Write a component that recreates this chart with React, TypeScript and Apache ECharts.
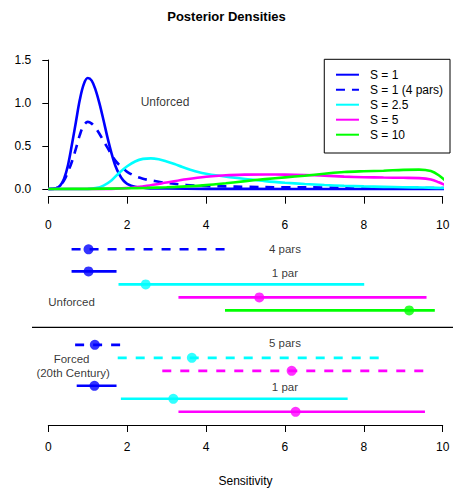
import { useEffect, useRef } from "react";
import * as echarts from "echarts";

// ---------- data ----------
const legendNames = ["S = 1", "S = 1 (4 pars)", "S = 2.5", "S = 5", "S = 10"];
const xTicks = [0, 2, 4, 6, 8, 10];
const yTicks = [0, 0.5, 1.0, 1.5];

const densityS1 = [
  [0, 0], [0.1, 0.002], [0.2, 0.01], [0.3, 0.04], [0.4, 0.12], [0.5, 0.28], [0.6, 0.52],
  [0.7, 0.78], [0.8, 1.04], [0.9, 1.22], [1.0, 1.29], [1.1, 1.26], [1.2, 1.15], [1.3, 0.99],
  [1.4, 0.8], [1.5, 0.6], [1.6, 0.42], [1.7, 0.27], [1.8, 0.17], [1.9, 0.1], [2.0, 0.06],
  [2.2, 0.025], [2.5, 0.01], [3, 0.005], [4, 0.002], [5, 0.001], [7, 0], [10.25, 0],
];
const densityS1FourPars = [
  [0, 0], [0.2, 0.01], [0.3, 0.04], [0.4, 0.1], [0.5, 0.2], [0.6, 0.32], [0.7, 0.47],
  [0.8, 0.63], [0.9, 0.74], [1.0, 0.78], [1.1, 0.76], [1.2, 0.71], [1.3, 0.64], [1.4, 0.56],
  [1.5, 0.48], [1.6, 0.4], [1.7, 0.33], [1.8, 0.28], [1.9, 0.24], [2.0, 0.2], [2.2, 0.15],
  [2.4, 0.12], [2.6, 0.1], [2.8, 0.085], [3.0, 0.07], [3.5, 0.047], [4, 0.035], [4.5, 0.03],
  [5, 0.025], [6, 0.02], [7, 0.018], [8, 0.016], [9, 0.014], [10, 0.01], [10.25, 0.004],
];
const densityS25 = [
  [0, 0], [1.0, 0.001], [1.2, 0.01], [1.4, 0.04], [1.6, 0.1], [1.8, 0.19], [2.0, 0.265],
  [2.2, 0.32], [2.4, 0.35], [2.6, 0.356], [2.8, 0.345], [3.0, 0.32], [3.2, 0.29], [3.4, 0.255],
  [3.6, 0.225], [3.8, 0.198], [4.0, 0.178], [4.3, 0.156], [4.6, 0.138], [5, 0.117], [5.5, 0.092],
  [6, 0.073], [6.5, 0.058], [7, 0.046], [7.5, 0.037], [8, 0.03], [8.5, 0.025], [9, 0.021],
  [9.5, 0.017], [10, 0.012], [10.25, 0.004],
];
const densityS5 = [
  [0, 0], [1.5, 0.001], [2.0, 0.01], [2.2, 0.02], [2.5, 0.038], [3.0, 0.075], [3.5, 0.113],
  [4.0, 0.143], [4.5, 0.16], [5.0, 0.167], [5.5, 0.169], [6.0, 0.167], [6.5, 0.163], [7.0, 0.155],
  [7.5, 0.144], [8.0, 0.137], [8.5, 0.133], [9.0, 0.13], [9.4, 0.126], [9.7, 0.11], [9.9, 0.078],
  [10.1, 0.038], [10.25, 0.012],
];
const densityS10 = [
  [0, 0], [1, 0.002], [2, 0.008], [2.5, 0.013], [3, 0.02], [3.5, 0.03], [4, 0.045], [4.5, 0.067],
  [5, 0.092], [5.5, 0.115], [6, 0.135], [6.5, 0.155], [7, 0.178], [7.5, 0.198], [8, 0.207],
  [8.5, 0.213], [9, 0.222], [9.4, 0.225], [9.7, 0.208], [9.9, 0.16], [10.1, 0.085], [10.25, 0.028],
];
const densities = [densityS1, densityS1FourPars, densityS25, densityS5, densityS10];

// credible intervals (lower, median, upper), row index in the lower panel
const intervalRow = [1, 2.7, 3.7, 4.7, 5.7, 8.35, 9.35, 10.35, 11.5, 12.5, 13.5];
const intervalLow = [0.59, 0.59, 1.78, 3.30, 4.48, 0.68, 1.76, 2.89, 0.72, 1.84, 3.30];
const intervalMid = [1.02, 1.02, 2.47, 5.35, 9.15, 1.18, 3.64, 6.17, 1.17, 3.17, 6.27];
const intervalHigh = [4.56, 1.73, 8.01, 9.59, 9.80, 1.83, 8.56, 9.59, 1.73, 7.59, 9.55];
const intervalSeries = [1, 0, 2, 3, 4, 1, 2, 3, 0, 2, 3]; // index into the S groups

const panelNotes = ["4 pars", "1 par", "Unforced", "5 pars", "Forced", "(20th Century)", "1 par"];
const panelNoteX = [6.0, 6.0, 0.59, 6.0, 0.59, 0.63, 6.0];
const panelNoteRow = [1, 2.82, 5.03, 8.23, 9.44, 10.54, 11.6];

// ---------- styles ----------
const groupColor = ["#0000ff", "#0000ff", "#00ffff", "#ff00ff", "#00ff00"];
const intervalDashed = [true, false, false, false, false, true, true, true, false, false, false];
const FONT = "'Liberation Sans', Arial, Helvetica, sans-serif";

export default function App() {
  const ref = useRef<HTMLDivElement>(null);

  useEffect(() => {
    if (!ref.current) return;
    const chart = echarts.init(ref.current, null, { renderer: "svg" });

    const densitySeries = densities.map((d, i) => ({
      name: legendNames[i],
      type: "line",
      xAxisIndex: 0,
      yAxisIndex: 0,
      data: d,
      smooth: 0.35,
      symbol: "none",
      clip: false,
      silent: true,
      lineStyle: {
        color: groupColor[i],
        width: 2.6,
        type: i === 1 ? [9, 7] : "solid",
      },
      itemStyle: { color: groupColor[i] },
      z: 2 + i,
    }));

    const intervalLines = intervalRow.map((row, i) => ({
      type: "line",
      xAxisIndex: 1,
      yAxisIndex: 1,
      data: [
        [intervalLow[i], row],
        [intervalHigh[i], row],
      ],
      symbol: "none",
      silent: true,
      lineStyle: {
        color: groupColor[intervalSeries[i]],
        width: 2.6,
        type: intervalDashed[i] ? [9, 9] : "solid",
      },
      z: 2,
    }));

    const intervalPoints = {
      type: "scatter",
      xAxisIndex: 1,
      yAxisIndex: 1,
      symbol: "circle",
      symbolSize: 10,
      silent: true,
      data: intervalRow.map((row, i) => ({
        value: [intervalMid[i], row],
        itemStyle: { color: groupColor[intervalSeries[i]] },
      })),
      z: 3,
    };

    const notes = {
      type: "scatter",
      xAxisIndex: 1,
      yAxisIndex: 1,
      symbolSize: 0,
      silent: true,
      data: panelNotes.map((t, i) => ({ name: t, value: [panelNoteX[i], panelNoteRow[i]] })),
      label: {
        show: true,
        position: "inside",
        formatter: (p: any) => p.name,
        color: "#000",
        fontFamily: FONT,
        fontSize: 11.5,
      },
      z: 5,
    };

    const topNote = {
      type: "scatter",
      xAxisIndex: 0,
      yAxisIndex: 0,
      symbolSize: 0,
      silent: true,
      data: [{ name: "Unforced", value: [2.96, 1.01] }],
      label: {
        show: true,
        position: "inside",
        formatter: (p: any) => p.name,
        color: "#000",
        fontFamily: FONT,
        fontSize: 12,
      },
    };

    const xAxisCommon = {
      type: "value",
      min: xTicks[0],
      max: xTicks[xTicks.length - 1],
      interval: 2,
      axisLine: { show: true, onZero: false, lineStyle: { color: "#000", width: 1 } },
      axisTick: { show: true, length: 7, lineStyle: { color: "#000" } },
      splitLine: { show: false },
      axisLabel: { color: "#000", fontFamily: FONT, fontSize: 12 },
    };

    chart.setOption({
      animation: false,
      backgroundColor: "#fff",
      textStyle: { fontFamily: FONT },
      title: {
        text: "Posterior Densities",
        left: "center",
        top: 5,
        textStyle: { fontFamily: FONT, fontSize: 13, fontWeight: "bold", color: "#000" },
      },
      legend: {
        data: legendNames,
        orient: "vertical",
        right: 3,
        top: 59.3,
        itemWidth: 23,
        itemHeight: 14,
        itemGap: 3,
        borderColor: "#000",
        borderWidth: 1,
        borderRadius: 0,
        padding: [9.4, 7, 12.3, 10.7],
        backgroundColor: "#fff",
        selectedMode: false,
        itemStyle: { opacity: 0 },
        textStyle: { fontFamily: FONT, fontSize: 12, color: "#000", padding: [0, 0, 0, 6] },
      },
      grid: [
        { left: 48.3, top: 60, width: 394.4, height: 129 },
        { left: 48.3, top: 236.3, width: 394.4, height: 182 },
      ],
      xAxis: [
        {
          ...xAxisCommon,
          gridIndex: 0,
          position: "bottom",
          offset: 7.7,
          axisLabel: { ...xAxisCommon.axisLabel, margin: 22 },
        },
        {
          ...xAxisCommon,
          gridIndex: 1,
          position: "bottom",
          offset: 6.7,
          name: "Sensitivity",
          nameLocation: "middle",
          nameGap: 50,
          nameTextStyle: { color: "#000", fontFamily: FONT, fontSize: 12 },
          axisLabel: { ...xAxisCommon.axisLabel, margin: 16 },
        },
      ],
      yAxis: [
        {
          type: "value",
          gridIndex: 0,
          min: yTicks[0],
          max: yTicks[yTicks.length - 1],
          interval: 0.5,
          offset: 4,
          axisLine: { show: true, lineStyle: { color: "#000", width: 1 } },
          axisTick: { show: true, length: 6, lineStyle: { color: "#000" } },
          splitLine: { show: false },
          axisLabel: {
            color: "#000",
            fontFamily: FONT,
            fontSize: 12,
            margin: 13,
            formatter: (v: number) => v.toFixed(1),
          },
        },
        {
          type: "value",
          gridIndex: 1,
          min: 0,
          max: 14,
          inverse: true,
          show: false,
        },
      ],
      graphic: [
        {
          type: "line",
          shape: { x1: 32, y1: 327.3, x2: 453, y2: 327.3 },
          style: { stroke: "#000", lineWidth: 1.3 },
          silent: true,
        },
      ],
      series: [...densitySeries, topNote, ...intervalLines, intervalPoints, notes],
    });

    return () => chart.dispose();
  }, []);

  return (
    <div
      ref={ref}
      style={{ position: "fixed", left: 0, top: 0, width: 453, height: 496 }}
    />
  );
}
